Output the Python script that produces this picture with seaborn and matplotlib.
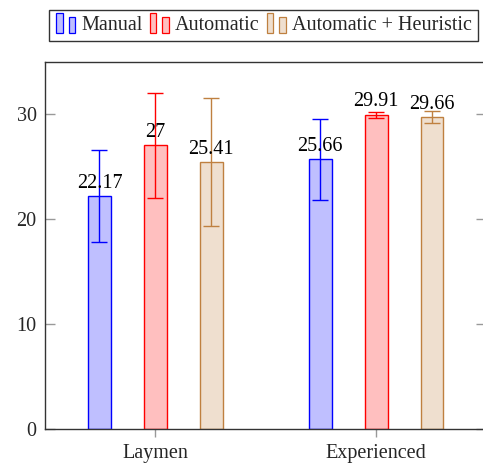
import matplotlib
matplotlib.use("Agg")
import matplotlib.pyplot as plt
from matplotlib.legend_handler import HandlerBase
from matplotlib.patches import Rectangle
import pandas as pd
import seaborn as sns

groups = ["Laymen", "Experienced"]
methods = ["Manual", "Automatic", "Automatic + Heuristic"]
means = {
    "Manual": [22.17, 25.66],
    "Automatic": [27.0, 29.91],
    "Automatic + Heuristic": [25.41, 29.66],
}
errors = {
    "Manual": [4.4, 3.9],
    "Automatic": [5.0, 0.27],
    "Automatic + Heuristic": [6.1, 0.57],
}
value_labels = {
    "Manual": ["22.17", "25.66"],
    "Automatic": ["27", "29.91"],
    "Automatic + Heuristic": ["25.41", "29.66"],
}
yticks = [0, 10, 20, 30]

fills = {"Manual": "#bfbfff", "Automatic": "#ffbfbf", "Automatic + Heuristic": "#efdfcf"}
edges = {"Manual": "#0000ff", "Automatic": "#ff0000", "Automatic + Heuristic": "#bf8040"}

FS = 14.5

sns.set_style("white")
plt.rcParams["font.family"] = ["Liberation Serif", "DejaVu Serif"]
plt.rcParams["font.size"] = FS

rows = []
for m in methods:
    for g, v in zip(groups, means[m]):
        rows.append({"group": g, "method": m, "value": v})
df = pd.DataFrame(rows)

fig = plt.figure(figsize=(4.83, 4.66), dpi=100)
ax = fig.add_axes([0.0932, 0.0795, 0.914, 0.7865])

sns.barplot(data=df, x="group", y="value", hue="method", order=groups,
            hue_order=methods, palette=fills, width=0.76, gap=0.59,
            errorbar=None, legend=False, ax=ax, linewidth=1.0, saturation=1)

for m, cont in zip(methods, ax.containers):
    for i, bar in enumerate(cont):
        bar.set_edgecolor(edges[m])
        bar.set_linewidth(1.0)
        cx = bar.get_x() + bar.get_width() / 2
        h = bar.get_height()
        eb = ax.errorbar(cx, h, yerr=errors[m][i], ecolor=edges[m], elinewidth=1.0,
                         capsize=5.5, capthick=1.0, fmt="none", zorder=4)
        for cap in eb[1]:
            cap.set_color("#333333")
        ax.annotate(value_labels[m][i], (cx, h), xytext=(0, 2.5),
                    textcoords="offset points", ha="center", va="bottom",
                    fontsize=FS, color="black", zorder=5)

ax.set_xlim(-0.5, 1.5)
ax.set_ylim(0, 34.9)
ax.set_yticks(yticks)
ax.set_yticklabels([str(t) for t in yticks])
ax.set_xlabel("")
ax.set_ylabel("")
for s in ax.spines.values():
    s.set_color("#333333")
    s.set_linewidth(1.0)
ax.tick_params(axis="y", direction="in", length=7, color="#999999", width=1,
               left=True, right=True, pad=6, labelsize=FS)
ax.tick_params(axis="x", direction="out", length=6, color="#999999", width=1,
               bottom=True, pad=5, labelsize=FS)


class PairedBarHandler(HandlerBase):
    def create_artists(self, legend, orig_handle, xdescent, ydescent,
                       width, height, fontsize, trans):
        fc = orig_handle.get_facecolor()
        ec = orig_handle.get_edgecolor()
        r1 = Rectangle((-xdescent + 1, -ydescent - 2), 4.5, height + 4,
                       facecolor=fc, edgecolor=ec, lw=0.9, transform=trans)
        r2 = Rectangle((-xdescent + 10, -ydescent - 2), 4.5, height + 1,
                       facecolor=fc, edgecolor=ec, lw=0.9, transform=trans)
        return [r1, r2]


handles = [Rectangle((0, 0), 1, 1, facecolor=fills[m], edgecolor=edges[m]) for m in methods]
leg = fig.legend(handles, methods, loc="center", bbox_to_anchor=(0.545, 0.945),
                 ncol=3, frameon=True, fancybox=False, edgecolor="black",
                 handler_map={Rectangle: PairedBarHandler()},
                 handlelength=1.0, handletextpad=0.3, columnspacing=0.3,
                 borderpad=0.3, fontsize=FS)
leg.get_frame().set_linewidth(1.0)

fig.savefig("out.png", dpi=100)
